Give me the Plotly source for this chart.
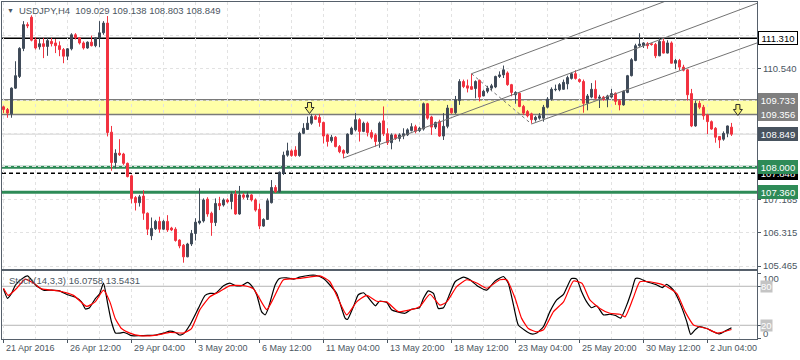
import plotly.graph_objects as go

# ---------------- data ----------------
bar_open = [
    109.55, 109.48, 109.37, 110.03, 110.33, 111.05, 111.66, 111.85, 111.27, 111.09,
    111.17, 111.10, 111.23, 111.19, 111.12, 111.02, 110.85, 111.04, 111.40, 111.32,
    111.19, 111.06, 111.21, 111.12, 111.32, 111.45, 111.70, 108.90, 108.12, 108.36,
    108.34, 108.10, 107.78, 107.22, 107.09, 107.26, 106.82, 106.24, 106.42, 106.61,
    106.41, 106.61, 106.44, 106.41, 106.13, 106.00, 105.70, 106.03, 106.30, 106.57,
    106.62, 107.18, 106.82, 106.58, 107.07, 107.03, 107.16, 107.12, 107.31, 106.80,
    107.29, 107.23, 107.29, 107.16, 106.92, 106.49, 106.66, 107.09, 107.48, 107.37,
    107.84, 108.31, 108.42, 108.44, 108.30, 108.87, 108.97, 109.13, 109.30, 109.28,
    109.15, 108.83, 108.68, 108.77, 108.53, 108.43, 108.37, 108.85, 108.96, 109.22,
    108.92, 109.13, 108.89, 108.83, 108.66, 109.19, 108.86, 108.63, 108.83, 108.74,
    108.80, 108.83, 108.94, 109.04, 108.94, 108.98, 109.63, 109.29, 109.03, 109.17,
    108.80, 109.05, 109.51, 109.40, 109.71, 110.20, 110.09, 110.07, 110.02, 110.23,
    109.83, 109.95, 110.03, 110.06, 110.33, 110.37, 110.42, 110.12, 109.86, 109.90,
    109.56, 109.43, 109.37, 109.22, 109.26, 109.26, 109.54, 109.75, 109.99, 109.99,
    110.00, 110.14, 110.28, 110.40, 110.25, 110.20, 109.64, 109.80, 110.00, 109.77,
    109.80, 109.75, 109.80, 109.90, 109.71, 109.60, 109.92, 110.35, 110.74, 111.12,
    111.12, 111.17, 111.17, 111.15, 110.86, 111.23, 110.93, 111.19, 110.67, 110.74,
    110.57, 110.50, 109.89, 109.06, 109.64, 109.54, 109.34, 109.17, 109.00, 108.79,
    108.72, 108.87, 109.029,
]
bar_high = [
    109.58, 109.52, 110.05, 110.72, 111.08, 111.75, 111.72, 111.90, 111.34, 111.32,
    111.32, 111.32, 111.32, 111.29, 111.23, 111.06, 111.06, 111.44, 111.44, 111.34,
    111.23, 111.23, 111.38, 111.34, 111.75, 111.75, 111.88, 109.06, 108.46, 108.72,
    108.37, 108.12, 107.81, 107.26, 107.29, 107.41, 106.84, 106.71, 106.65, 106.73,
    106.65, 106.77, 106.47, 106.46, 106.15, 106.03, 106.06, 106.39, 106.69, 107.46,
    107.20, 107.23, 106.86, 107.20, 107.24, 107.20, 107.20, 107.37, 107.41, 107.52,
    107.34, 107.37, 107.31, 107.20, 107.07, 106.69, 107.20, 107.67, 107.54, 107.89,
    108.40, 108.63, 108.46, 108.54, 108.91, 109.13, 109.30, 109.37, 109.34, 109.37,
    109.17, 108.86, 108.83, 108.80, 108.57, 108.46, 108.87, 109.04, 109.39, 109.26,
    109.17, 109.17, 108.96, 108.87, 109.17, 109.56, 109.00, 108.87, 108.86, 108.87,
    109.00, 109.00, 109.13, 109.09, 109.04, 109.66, 109.65, 109.32, 109.17, 109.22,
    109.39, 109.60, 109.52, 109.83, 110.26, 110.25, 110.25, 110.40, 110.23, 110.25,
    109.99, 110.09, 110.14, 110.35, 110.46, 110.61, 110.46, 110.14, 109.95, 109.92,
    109.60, 109.47, 109.40, 109.32, 109.39, 109.60, 109.80, 110.05, 110.12, 110.16,
    110.25, 110.35, 110.43, 110.49, 110.28, 110.25, 109.88, 110.16, 110.23, 109.86,
    109.83, 109.86, 110.01, 109.92, 109.75, 109.97, 110.37, 110.80, 111.17, 111.44,
    111.21, 111.21, 111.19, 111.19, 111.32, 111.32, 111.26, 111.23, 110.78, 110.78,
    110.63, 110.52, 110.01, 109.71, 109.71, 109.60, 109.37, 109.20, 109.03, 108.80,
    108.92, 109.07, 109.138,
]
bar_low = [
    109.39, 109.27, 109.27, 110.01, 110.29, 110.98, 111.57, 111.23, 111.02, 111.02,
    110.80, 110.86, 111.10, 110.93, 110.85, 110.67, 110.75, 111.00, 111.28, 111.15,
    111.02, 111.04, 111.10, 111.08, 111.08, 111.40, 108.79, 107.91, 107.97, 108.29,
    108.06, 107.74, 107.07, 106.89, 106.99, 106.65, 106.26, 106.13, 106.39, 106.32,
    106.39, 106.34, 106.36, 106.09, 105.92, 105.55, 105.69, 105.98, 106.12, 106.53,
    106.58, 106.73, 106.24, 106.49, 106.90, 106.99, 107.07, 106.92, 106.78, 106.78,
    107.18, 107.16, 107.12, 106.86, 106.41, 106.47, 106.65, 107.07, 107.34, 107.34,
    107.80, 108.27, 108.27, 108.27, 108.27, 108.85, 108.96, 109.09, 109.22, 109.04,
    108.61, 108.53, 108.63, 108.51, 108.36, 108.23, 108.34, 108.83, 108.92, 108.66,
    108.90, 108.79, 108.72, 108.53, 108.50, 108.80, 108.57, 108.46, 108.70, 108.66,
    108.72, 108.80, 108.92, 108.87, 108.90, 108.94, 109.22, 108.83, 108.98, 108.78,
    108.70, 109.00, 109.37, 109.37, 109.60, 110.03, 109.92, 109.99, 109.77, 109.69,
    109.82, 109.90, 109.95, 110.03, 110.29, 110.29, 110.09, 109.82, 109.63, 109.54,
    109.34, 109.28, 109.12, 109.17, 109.22, 109.17, 109.51, 109.71, 109.95, 109.95,
    109.99, 110.00, 110.25, 110.25, 110.17, 109.40, 109.46, 109.77, 109.73, 109.52,
    109.71, 109.54, 109.77, 109.60, 109.46, 109.58, 109.90, 110.33, 110.72, 111.09,
    111.06, 111.04, 111.12, 110.80, 110.85, 110.92, 110.92, 110.66, 110.52, 110.49,
    110.46, 109.71, 109.03, 109.04, 109.49, 109.22, 108.85, 108.96, 108.63, 108.49,
    108.68, 108.77, 108.803,
]
bar_close = [
    109.48, 109.39, 110.03, 110.35, 111.05, 111.66, 111.63, 111.26, 111.06, 111.17,
    111.10, 111.25, 111.17, 111.12, 111.02, 110.85, 111.04, 111.40, 111.32, 111.19,
    111.06, 111.21, 111.12, 111.32, 111.45, 111.70, 108.89, 108.12, 108.36, 108.32,
    108.10, 107.76, 107.20, 107.09, 107.24, 106.82, 106.41, 106.43, 106.61, 106.41,
    106.61, 106.39, 106.39, 106.12, 105.98, 105.70, 106.03, 106.30, 106.59, 106.62,
    107.16, 106.80, 106.58, 107.07, 107.01, 107.16, 107.11, 107.31, 106.80, 107.29,
    107.23, 107.29, 107.16, 106.90, 106.49, 106.66, 107.14, 107.48, 107.37, 107.87,
    108.31, 108.42, 108.30, 108.30, 108.87, 109.00, 109.13, 109.30, 109.23, 109.15,
    108.80, 108.66, 108.77, 108.53, 108.40, 108.36, 108.85, 109.00, 109.22, 108.92,
    109.13, 108.89, 108.77, 108.66, 109.13, 108.86, 108.63, 108.83, 108.74, 108.83,
    108.86, 108.96, 109.04, 108.92, 109.00, 109.63, 109.26, 109.03, 109.15, 108.80,
    109.05, 109.52, 109.40, 109.73, 110.20, 110.07, 110.03, 110.00, 110.20, 109.80,
    109.95, 110.03, 110.09, 110.33, 110.37, 110.50, 110.12, 109.92, 109.92, 109.56,
    109.39, 109.32, 109.22, 109.28, 109.32, 109.54, 109.75, 110.00, 110.00, 110.12,
    110.18, 110.30, 110.40, 110.28, 110.20, 109.64, 109.83, 110.00, 109.77, 109.80,
    109.73, 109.83, 109.89, 109.69, 109.60, 109.95, 110.35, 110.76, 111.12, 111.16,
    111.19, 111.12, 111.15, 110.86, 111.23, 110.93, 111.19, 110.67, 110.74, 110.57,
    110.49, 109.86, 109.06, 109.64, 109.54, 109.32, 109.17, 108.98, 108.77, 108.70,
    108.87, 109.06, 108.849,
]

date_labels = ["21 Apr 2016", "26 Apr 12:00", "29 Apr 04:00", "3 May 20:00",
               "6 May 12:00", "11 May 04:00", "13 May 20:00", "18 May 12:00",
               "23 May 04:00", "25 May 20:00", "30 May 12:00", "2 Jun 04:00"]
date_label_bars = [0, 16, 32, 48, 64, 80, 96, 112, 128, 144, 160, 176]

price_ticks = [105.465, 106.315, 107.165, 108.015, 108.865, 109.715, 110.540, 111.390]
price_tick_text = ["105.465", "106.315", "107.165", "", "", "", "110.540", ""]

resistance_level = 111.310
zone_low, zone_high = 109.356, 109.733
support_levels = [108.000, 107.360]
dashed_level = 107.848

# trend channel anchors (bar index, price) and slopes (price per bar)
channel_base_bar, channel_base_price = 85, 108.237
channel_top_bar, channel_top_price = 117, 110.400
channel_slope = 0.0384
channel2_bar, channel2_price = 132, 109.11
channel2_slope = 0.0369

arrow_bars = [76.5, 183.6]
arrow_prices = [109.52, 109.47]

stoch_k_bar = [0, 1, 2, 3, 4.5, 6, 7, 8, 10, 12, 14, 16, 18, 19.5, 20.5, 21.5, 23, 24, 25, 26,
               27, 28, 29, 30, 31, 32, 34, 36, 38, 40, 41.6, 43, 44, 45, 46.6, 48.7, 50.4, 51.6, 53, 55,
               56.6, 58, 59.5, 61, 62, 63.3, 64.5, 65.4, 66.2, 67.9, 69, 70.8, 72.5, 74, 76.6, 78, 80, 81.6, 83.3, 85.4,
               86, 87.5, 88.7, 90, 91, 93, 94, 95.8, 97, 98.3, 100.4, 102, 104, 105, 106.2, 107.5, 108.7, 110, 111.6, 112.9,
               115, 116.6, 118.7, 120.8, 122.9, 125, 126.2, 127.5, 128.7, 130.4, 132, 133.3, 135, 136.6, 138.3, 140, 142, 143.3, 144.5, 145.8,
               147, 148.3, 150, 151.6, 153, 154.3, 155.8, 157, 158, 159, 160.8, 163, 164.7, 165.8, 167.5, 169, 170.8, 171.8, 172.9, 174,
               175.8, 177.5, 179, 180.4, 182]
stoch_k_val = [76, 61.5, 69, 82, 91, 96, 90, 82, 74, 74, 73, 67, 63, 56, 45, 47, 61.5, 68, 85, 55,
               25, 8, 8, 9, 7, 4, 4, 4.5, 5, 8, 11, 9, 5, 7, 20.5, 46, 66, 69, 69, 81,
               85, 81, 81, 86, 81, 67, 41, 36, 46, 82, 92, 93, 91, 94, 97, 97, 92, 82, 69, 31,
               29, 49, 67, 70, 64, 50, 57, 55, 44, 41, 38.5, 44.6, 47, 61.5, 73, 69, 46, 47, 69, 87,
               94, 90, 79.5, 74, 88, 95, 84.6, 51, 20.5, 12, 6.7, 8, 18, 41, 59, 67.7, 92, 91, 72, 56,
               47, 50, 36, 37, 35, 31, 51, 72, 92, 92, 87, 83, 78, 83, 74, 56, 26, 6, 13, 18,
               15, 10, 6.7, 11, 16.0758]
stoch_d_bar = [0, 1.2, 3.3, 5.4, 7.5, 9.5, 13.7, 17.5, 20.8, 22.9, 25, 26.6, 27.9, 29.5, 31.6, 34.1, 38.3, 41.6, 45, 47,
               49.1, 51.6, 54.1, 56.6, 60, 62.5, 65.8, 67.5, 70, 74.1, 79.1, 81.6, 85.8, 88.3, 90.8, 93.3, 95.8, 98.7, 101.6, 104.1,
               106.6, 109.1, 110.8, 113.3, 115.8, 118.3, 120.8, 124.1, 125.8, 127.9, 129.5, 131.2, 133.3, 135, 137.5, 140, 142.5, 144.6, 146.6, 149.1,
               151.6, 154.1, 155.4, 157.4, 159.1, 161.6, 165, 168.3, 170.4, 172.5, 175.8, 178.4, 182]
stoch_d_val = [77, 66, 77, 91, 85, 76, 73, 66, 49, 56, 74, 56, 31, 15, 8, 4, 5, 9, 8, 15,
               44, 64, 72, 81, 81, 76, 44, 61.5, 90, 92, 96, 87, 36, 56, 66, 57, 56, 41, 43.6, 49,
               67.7, 51, 56, 79.5, 90, 85, 77, 90, 90, 61.5, 31, 15, 10, 13, 41, 56, 88, 84.6, 59, 46,
               38.5, 37, 33, 61.5, 87, 87, 82, 69, 41, 20.5, 15, 8, 13.5431]

# ---------------- styling ----------------
FONT = "Liberation Sans, Arial, sans-serif"
TXT = "#4b5661"
BULL = "#3f4b59"
BEAR = "#f2323f"
FRAME = "#56606b"
GRID = "#e2e2e2"
GREEN = "#2e8b57"
LEVEL_GREY = "#7a7a7a"

n = len(bar_open)
bars = list(range(n))
X_RANGE = [-0.375, 188.375]
Y_RANGE = [105.388, 112.241]
S_RANGE = [-1.1, 103.5]

# plot area (pixels) used to place free text
PL, PT, PW, PH = 2, 2, 755, 337
def fx(x):
    return (x - PL) / PW
def fy(y):
    return (PT + PH - y) / PH

grid_bars = list(range(0, 189, 8))
minor_bars = [b for b in grid_bars if b not in date_label_bars]

fig = go.Figure()
fig.add_trace(go.Candlestick(
    x=bars, open=bar_open, high=bar_high, low=bar_low, close=bar_close,
    increasing=dict(line=dict(color=BULL, width=1), fillcolor=BULL),
    decreasing=dict(line=dict(color=BEAR, width=1), fillcolor=BEAR),
    whiskerwidth=0, xaxis="x", yaxis="y", showlegend=False, hoverinfo="skip"))
fig.add_trace(go.Scatter(
    x=stoch_k_bar, y=stoch_k_val, mode="lines", xaxis="x2", yaxis="y2",
    line=dict(color="black", width=1.2, shape="spline", smoothing=0.5),
    showlegend=False, hoverinfo="skip"))
fig.add_trace(go.Scatter(
    x=stoch_d_bar, y=stoch_d_val, mode="lines", xaxis="x2", yaxis="y2",
    line=dict(color="#ff0000", width=1.2, shape="spline", smoothing=0.5),
    showlegend=False, hoverinfo="skip"))

shapes = []
def hline(y, color, width, dash="solid", layer="below", yref="y", xref="x domain"):
    shapes.append(dict(type="line", xref=xref, yref=yref, x0=0, x1=1, y0=y, y1=y,
                       line=dict(color=color, width=width, dash=dash), layer=layer))

shapes.append(dict(type="rect", xref="x domain", yref="y", x0=0, x1=1, y0=zone_low, y1=zone_high,
                   fillcolor="#ffffa8", line=dict(width=0), layer="below"))
hline(zone_low, LEVEL_GREY, 1.5)
hline(zone_high, LEVEL_GREY, 1.5)
hline(bar_close[-1], "#d4d4d4", 1)
hline(resistance_level, "black", 1.5)
for lv in support_levels:
    hline(lv, GREEN, 3)
hline(dashed_level, "black", 1.5, dash="4px,3px")
hline(80, "#b4b4b4", 1, yref="y2", xref="x2 domain")
hline(20, "#b4b4b4", 1, yref="y2", xref="x2 domain")

x_end = X_RANGE[1]
def chan(b0, p0, slope, dash="solid"):
    shapes.append(dict(type="line", xref="x", yref="y", x0=b0, y0=p0,
                       x1=x_end, y1=p0 + slope * (x_end - b0),
                       line=dict(color="#737373", width=1, dash=dash), layer="above"))
chan(channel_base_bar, channel_base_price, channel_slope)
chan(channel_top_bar, channel_top_price, channel_slope)
chan(channel2_bar, channel2_price, channel2_slope)
shapes.append(dict(type="line", xref="x", yref="y", x0=channel_top_bar, y0=channel_top_price,
                   x1=channel2_bar, y1=channel2_price,
                   line=dict(color="#737373", width=1, dash="dot"), layer="above"))

arrow_path = "M -2 5.5 L 2 5.5 L 2 0.5 L 4.5 0.5 L 0 -5.5 L -4.5 0.5 L -2 0.5 Z"
for ab, ap in zip(arrow_bars, arrow_prices):
    shapes.append(dict(type="path", xref="x", yref="y", xsizemode="pixel", ysizemode="pixel",
                       xanchor=ab, yanchor=ap, path=arrow_path, fillcolor="#f7f27a",
                       line=dict(color="#2a2a2a", width=1), layer="above"))

ann = []
def box(v, bg, fg, border=None):
    ann.append(dict(xref="paper", x=1, xanchor="left", xshift=1, yref="y", y=v, yanchor="middle",
                    text=f"{v:.3f}", showarrow=False, bgcolor=bg, width=38, height=12,
                    align="center", borderpad=0,
                    bordercolor=border if border else bg, borderwidth=1,
                    font=dict(family=FONT, size=9.5, color=fg)))
box(resistance_level, "white", "black", "black")
box(zone_high, "#7f7f7f", "white")
box(zone_low, "#7f7f7f", "white")
box(bar_close[-1], "#48535f", "white")
box(dashed_level, "black", "white")
box(support_levels[0], GREEN, "white")
box(support_levels[1], GREEN, "white")

# stochastic axis labels
for v, ys in [(100, -5), (0, 5)]:
    ann.append(dict(xref="paper", x=1, xanchor="left", xshift=4, yref="y2", y=v, yshift=ys,
                    yanchor="middle", text=str(v), showarrow=False,
                    font=dict(family=FONT, size=9.5, color=TXT)))
for v in (80, 20):
    ann.append(dict(xref="paper", x=1, xanchor="left", xshift=3, yref="y2", y=v,
                    yanchor="middle", text=str(v), showarrow=False, bgcolor="#c4c4c4",
                    borderpad=0, font=dict(family=FONT, size=9.5, color="white")))

# titles
ann.append(dict(xref="paper", yref="paper", x=fx(5), y=fy(10), xanchor="left", yanchor="middle",
                text="▼", showarrow=False, font=dict(family=FONT, size=7, color=TXT)))
ohlc_txt = " ".join(f"{v:.3f}" for v in (bar_open[-1], bar_high[-1], bar_low[-1], bar_close[-1]))
ann.append(dict(xref="paper", yref="paper", x=fx(17), y=fy(10), xanchor="left", yanchor="middle",
                text="USDJPY,H4\u00a0\u00a0" + ohlc_txt, showarrow=False,
                font=dict(family=FONT, size=9.5, color=TXT)))
ann.append(dict(xref="paper", yref="paper", x=fx(7), y=fy(280), xanchor="left", yanchor="middle",
                text=f"Stoch(14,3,3) {stoch_k_val[-1]:.4f} {stoch_d_val[-1]:.4f}", showarrow=False,
                font=dict(family=FONT, size=9.5, color=TXT)))

# date labels
for b, t in zip(date_label_bars, date_labels):
    ann.append(dict(xref="x2", x=b, yref="paper", y=fy(348), xanchor="left", yanchor="middle",
                    xshift=0, text=t, showarrow=False,
                    font=dict(family=FONT, size=9, color=TXT)))

axis_common = dict(zeroline=False, showline=True, mirror=True, linecolor=FRAME, linewidth=1,
                   fixedrange=True)
fig.update_layout(
    width=800, height=360,
    margin=dict(l=PL, r=800 - PL - PW, t=PT, b=360 - PT - PH, autoexpand=False),
    paper_bgcolor="white", plot_bgcolor="white", showlegend=False,
    shapes=shapes, annotations=ann,
    xaxis=dict(domain=[0, 1], anchor="y", range=X_RANGE, tickvals=grid_bars,
               showticklabels=False, ticks="", showgrid=True, gridcolor=GRID,
               griddash="3px,3px", gridwidth=1, rangeslider=dict(visible=False),
               automargin=False, **axis_common),
    yaxis=dict(domain=[fy(269), 1], anchor="x", side="right", range=Y_RANGE,
               tickmode="array", tickvals=price_ticks, ticktext=price_tick_text,
               ticks="outside", ticklen=3, tickcolor=TXT,
               tickfont=dict(family=FONT, size=9.5, color=TXT),
               showgrid=True, gridcolor=GRID, griddash="3px,3px", automargin=False,
               **axis_common),
    xaxis2=dict(domain=[0, 1], anchor="y2", range=X_RANGE, tickmode="array",
                tickvals=date_label_bars, ticks="outside", ticklen=3, tickcolor=TXT,
                showticklabels=False, showgrid=True, gridcolor=GRID, griddash="3px,3px",
                minor=dict(tickmode="array", tickvals=minor_bars, showgrid=True,
                           gridcolor=GRID, griddash="3px,3px", ticks=""),
                automargin=False, **axis_common),
    yaxis2=dict(domain=[0, fy(271)], anchor="x2", side="right", range=S_RANGE,
                tickmode="array", tickvals=[0, 20, 80, 100], ticks="outside", ticklen=3,
                tickcolor=TXT, showticklabels=False, showgrid=False, automargin=False,
                **axis_common),
)

fig.write_html("out.html", config={"displayModeBar": False},
               post_script="document.body.style.margin='0';document.body.style.padding='0';")
